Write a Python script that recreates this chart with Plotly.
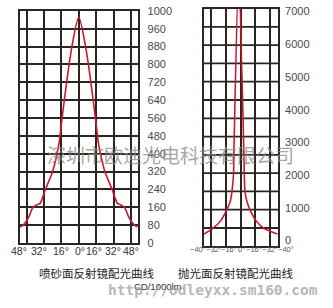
import plotly.graph_objects as go

# ---------------- data ----------------
# left chart: sand-blasted reflector (angle in degrees, intensity cd/1000lm)
sand_angle = [-54, -50, -46, -42, -38.5, -35.5, -33.5, -30.7, -24, -20, -18, -15.3, -11.2, -6.2, 0,
              6.2, 11.2, 15.3, 18, 20, 24, 30.7, 33.5, 35.5, 38.5, 42, 46, 50, 54]
sand_cd = [72, 86, 116, 160, 171, 178, 200, 240, 320, 400, 450, 560, 717, 882, 1011,
           882, 717, 560, 450, 400, 320, 240, 200, 178, 171, 160, 116, 86, 72]
sand_xgrid = [-48, -32, -16, 0, 16, 32, 48]
sand_ytick_vals = [0, 80, 160, 240, 320, 400, 480, 560, 640, 720, 800, 880, 960, 1040]
sand_ytick_text = ["0", "80", "160", "240", "320", "400", "480", "560", "640", "720", "800", "880", "960", "1000"]
sand_xlabel_pos = [-55, -36.8, -16.6, 1.1, 13.8, 31.3, 47.8]
sand_xlabel_text = ["48°", "32°", "16°", "0°", "16°", "32°", "48°"]

# right chart: polished reflector
pol_angle = [-40, -30.7, -21.6, -15.5, -11.4, -9.6, -7.8, -7.3, -2.3,
             3.2, 3.8, 4.6, 6.7, 10.3, 16.5, 25.6, 40]
pol_cd = [197, 361, 608, 920, 1196, 1490, 2057, 2900, 8200,
          2900, 2057, 1490, 1196, 920, 608, 361, 197]
pol_xgrid = [-32, -16, 0, 16, 32]
pol_ytick_vals = [0, 1000, 2000, 3000, 4000, 5000, 6000, 7000]
pol_ytick_text = ["0", "1000", "2000", "3000", "4000", "5000", "6000", "7000"]
pol_xlabel_pos = [-46.6, -29.5, -12.4, 1.1, 14.7, 31.8, 48.9]
pol_xlabel_text = ["−40°", "−32°", "−16°", "0°", "−16°", "−32°", "−40°"]

caption_left = "喷砂面反射镜配光曲线"
caption_right = "抛光面反射镜配光曲线"
unit_text = "CD/1000lm"
watermark_cn = "深圳市欧迪光电科技有限公司"
watermark_url = "http://odleyxx.sm160.com"

# ---------------- style / layout ----------------
GRID = "#2a2422"
RED = "#d0142c"
LBL = "#4a4a4a"
W, H = 333, 308

X1_DOM = [20 / W, 137.5 / W]
X1_RANGE = [-54, 54]
X2_DOM = [203.5 / W, 278 / W]
X2_RANGE = [-40.5, 40.5]


def axis_to_paper(v, dom, rng):
    """Convert a data value on an x axis to paper coordinates (labels may sit beyond the range)."""
    return dom[0] + (v - rng[0]) / (rng[1] - rng[0]) * (dom[1] - dom[0])


fig = go.Figure()
fig.add_trace(go.Scatter(x=sand_angle, y=sand_cd, mode="lines",
                         line=dict(color=RED, width=1.6, shape="spline", smoothing=0.8),
                         xaxis="x", yaxis="y", hoverinfo="skip", showlegend=False))
fig.add_trace(go.Scatter(x=pol_angle, y=pol_cd, mode="lines",
                         line=dict(color=RED, width=1.6, shape="spline", smoothing=0.6),
                         xaxis="x2", yaxis="y2", hoverinfo="skip", showlegend=False))

axis_common = dict(showline=True, mirror=True, linecolor=GRID, linewidth=1.8,
                   zeroline=False, ticks="", fixedrange=True)
grid_common = dict(gridcolor=GRID, gridwidth=1.8)

fig.update_layout(
    width=W, height=H,
    margin=dict(l=0, r=0, t=0, b=0),
    paper_bgcolor="white", plot_bgcolor="white",
    font=dict(family="Liberation Sans, Arial, sans-serif", color=LBL),
    xaxis=dict(domain=X1_DOM, range=X1_RANGE, tickvals=sand_xgrid,
               showticklabels=False, anchor="y", **axis_common, **grid_common),
    yaxis=dict(domain=[1 - 246.7 / H, 1 - 5 / H], range=[0, 1040], tickvals=sand_ytick_vals,
               ticktext=sand_ytick_text, side="right", anchor="x", ticklabelstandoff=6,
               ticklabeloverflow="allow",
               tickfont=dict(size=11, color=LBL), **axis_common, **grid_common),
    xaxis2=dict(domain=X2_DOM, range=X2_RANGE, tickvals=pol_xgrid,
                showticklabels=False, anchor="y2", **axis_common, **grid_common),
    yaxis2=dict(domain=[1 - 250 / H, 1 - 2.7 / H], range=[-176, 7091], tickvals=pol_ytick_vals,
                ticktext=pol_ytick_text, side="right", anchor="x2", showgrid=False,
                ticklabelstandoff=3, ticklabeloverflow="allow",
                tickfont=dict(size=11, color=LBL), **axis_common),
)

# right chart has 13 equal horizontal grid rows independent of tick labels
shapes = []
for k in range(1, 13):
    shapes.append(dict(type="line", xref="x2 domain", yref="y2 domain", x0=0, x1=1,
                       y0=k / 13, y1=k / 13, line=dict(color=GRID, width=1.8), layer="below"))
fig.update_layout(shapes=shapes)

ann = []
for p, t in zip(sand_xlabel_pos, sand_xlabel_text):
    ann.append(dict(x=axis_to_paper(p, X1_DOM, X1_RANGE), y=1 - 255 / H, xref="paper", yref="paper",
                    text=t, showarrow=False, xanchor="center", yanchor="middle",
                    font=dict(size=10.5, color="#333")))
for p, t in zip(pol_xlabel_pos, pol_xlabel_text):
    ann.append(dict(x=axis_to_paper(p, X2_DOM, X2_RANGE), y=1 - 253 / H, xref="paper", yref="paper",
                    text=t, showarrow=False, xanchor="center", yanchor="middle",
                    font=dict(size=7.5, color="#555")))
cjk = "Noto Sans CJK SC, sans-serif"
ann.append(dict(x=96.7 / W, y=1 - 277.5 / H, xref="paper", yref="paper", text=caption_left,
                xanchor="center", yanchor="middle",
                showarrow=False, font=dict(family=cjk, size=11.5, color="#222")))
ann.append(dict(x=235 / W, y=1 - 277.5 / H, xref="paper", yref="paper", text=caption_right,
                xanchor="center", yanchor="middle",
                showarrow=False, font=dict(family=cjk, size=11.5, color="#222")))
ann.append(dict(x=158 / W, y=1 - 292 / H, xref="paper", yref="paper", text=unit_text,
                xanchor="center", yanchor="middle",
                showarrow=False, font=dict(size=9.5, color="#333")))
ann.append(dict(x=170 / W, y=1 - 155 / H, xref="paper", yref="paper", text=watermark_cn,
                xanchor="center", yanchor="middle",
                showarrow=False, opacity=0.75, font=dict(family=cjk, size=19, color="#8a8a8a")))
ann.append(dict(x=212.5 / W, y=1 - 296 / H, xref="paper", yref="paper", text="<b>" + watermark_url + "</b>",
                xanchor="center", yanchor="middle",
                showarrow=False, opacity=0.7,
                font=dict(family="DejaVu Sans Mono, monospace", size=14.5, color="#9a9a9a")))
fig.update_layout(annotations=ann)

fig.write_html("out.html", config={"displayModeBar": False})
